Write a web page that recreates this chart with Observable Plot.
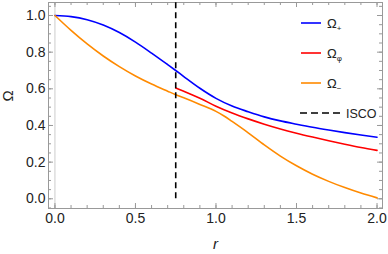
<!DOCTYPE html>
<html><head><meta charset="utf-8">
<script src="https://cdn.jsdelivr.net/npm/d3@7"></script>
<script src="https://cdn.jsdelivr.net/npm/@observablehq/plot@0.6"></script>
<style>
body{margin:0;background:#fff;}
#wrap{position:relative;width:388px;height:254px;font-family:"Liberation Sans",Arial,sans-serif;}
#legend{position:absolute;left:0;top:0;pointer-events:none;}
</style>
</head><body><div id="wrap"></div>
<script>
// Ω+ (blue)
const rPlus = [0,0.1,0.2,0.3,0.4,0.5,0.6,0.7,0.75,0.8,0.9,1.0,1.1,1.2,1.3,1.4,1.5,1.6,1.7,1.8,1.9,2.0];
const omegaPlus = [1.0,0.994,0.977,0.948,0.907,0.855,0.795,0.732,0.70,0.667,0.603,0.548,0.506,0.475,0.447,0.425,0.407,0.39,0.375,0.361,0.348,0.336];
// Ωφ (red)
const rPhi = [0.75,0.8,0.9,1.0,1.1,1.2,1.3,1.4,1.5,1.6,1.7,1.8,1.9,2.0];
const omegaPhi = [0.605,0.587,0.549,0.505,0.468,0.436,0.407,0.381,0.358,0.337,0.317,0.298,0.28,0.264];
// Ω− (orange)
const rMinus = [0,0.1,0.2,0.3,0.4,0.5,0.6,0.7,0.75,0.8,0.9,1.0,1.05,1.1,1.2,1.3,1.4,1.5,1.6,1.7,1.8,1.9,2.0];
const omegaMinus = [1.0,0.919,0.845,0.779,0.721,0.67,0.626,0.587,0.568,0.551,0.515,0.477,0.452,0.422,0.36,0.294,0.233,0.18,0.134,0.095,0.061,0.031,0.005];
const rISCO = [0.75];
const xMajor = [0,0.5,1,1.5,2];
const xMinor = d3.range(0,21).map(i=>i/10);
const yMajor = [0,0.2,0.4,0.6,0.8,1.0];
const yMinor = d3.range(-1,22).map(i=>i/20);
const seriesColors = ["#0000ff","#ff0000","#ff8a00"];

const W=388,H=254,mL=48,mR=6,mT=2,mB=46;
const iH=H-mT-mB, iW=W-mL-mR;
const xDom=[-0.04,2.034], yDom=[-0.053,1.071];
const tickColor="#999";

const toRows=(rs,vs)=>rs.map((r,i)=>({r,v:vs[i]}));
const lines = [[rPlus,omegaPlus],[rPhi,omegaPhi],[rMinus,omegaMinus]];

const chart = Plot.plot({
  width:W,height:H,marginLeft:mL,marginRight:mR,marginTop:mT,marginBottom:mB,
  style:{fontFamily:"Liberation Sans, Arial, sans-serif",fontSize:"14px",color:"#222",background:"#fff"},
  x:{domain:xDom,axis:null},
  y:{domain:yDom,axis:null},
  marks:[
    Plot.ruleX([0],{stroke:"#ccc",strokeWidth:1}),
    Plot.ruleX(xMinor,{stroke:tickColor,insetTop:iH-3}),
    Plot.ruleX(xMinor,{stroke:tickColor,insetBottom:iH-3}),
    Plot.ruleX(xMajor,{stroke:tickColor,insetTop:iH-5}),
    Plot.ruleX(xMajor,{stroke:tickColor,insetBottom:iH-5}),
    Plot.ruleY(yMinor,{stroke:tickColor,insetRight:iW-3}),
    Plot.ruleY(yMinor,{stroke:tickColor,insetLeft:iW-3}),
    Plot.ruleY(yMajor,{stroke:tickColor,insetRight:iW-5}),
    Plot.ruleY(yMajor,{stroke:tickColor,insetLeft:iW-5}),
    Plot.frame({stroke:tickColor}),
    ...lines.map(([rs,vs],i)=>Plot.line(toRows(rs,vs),{x:"r",y:"v",stroke:seriesColors[i],strokeWidth:1.6,curve:"monotone-x"})),
    Plot.ruleX(rISCO,{y1:0,y2:yDom[1],stroke:"#000",strokeWidth:1.6,strokeDasharray:"6,4"}),
    Plot.axisX(xMajor,{label:null,tickSize:0,tickPadding:5,tickFormat:d=>d.toFixed(1),fontSize:14,fill:"#222"}),
    Plot.axisY(yMajor,{label:null,tickSize:0,tickPadding:3,tickFormat:d=>d.toFixed(1),fontSize:14,fill:"#222"}),
    Plot.text(["r"],{text:d=>d,frameAnchor:"bottom",dy:40,fontStyle:"italic",fontSize:15,fill:"#222"}),
    Plot.text(["Ω"],{text:d=>d,frameAnchor:"left",dx:-40,dy:-4,rotate:-90,fontSize:15,fill:"#222"})
  ]
});
const wrap=document.getElementById("wrap");
wrap.appendChild(chart);

// legend overlay
const leg = d3.select(wrap).append("svg").attr("id","legend").attr("width",W).attr("height",H);
const subs = ["+","φ","−"];
const rowsY=[23,53,83];
rowsY.forEach((y,i)=>{
  leg.append("line").attr("x1",301).attr("x2",321).attr("y1",y).attr("y2",y).attr("stroke",seriesColors[i]).attr("stroke-width",1.6);
  const t=leg.append("text").attr("x",327).attr("y",y+4.5).attr("font-size",13).attr("fill","#222");
  t.append("tspan").text("Ω");
  t.append("tspan").attr("font-size",8).attr("dy",3).text(subs[i]);
});
leg.append("line").attr("x1",300).attr("x2",340).attr("y1",113).attr("y2",113).attr("stroke","#000").attr("stroke-width",1.6).attr("stroke-dasharray","7,4");
leg.append("text").attr("x",346).attr("y",117.5).attr("font-size",12.5).attr("fill","#222").text("ISCO");
</script>
</body></html>
